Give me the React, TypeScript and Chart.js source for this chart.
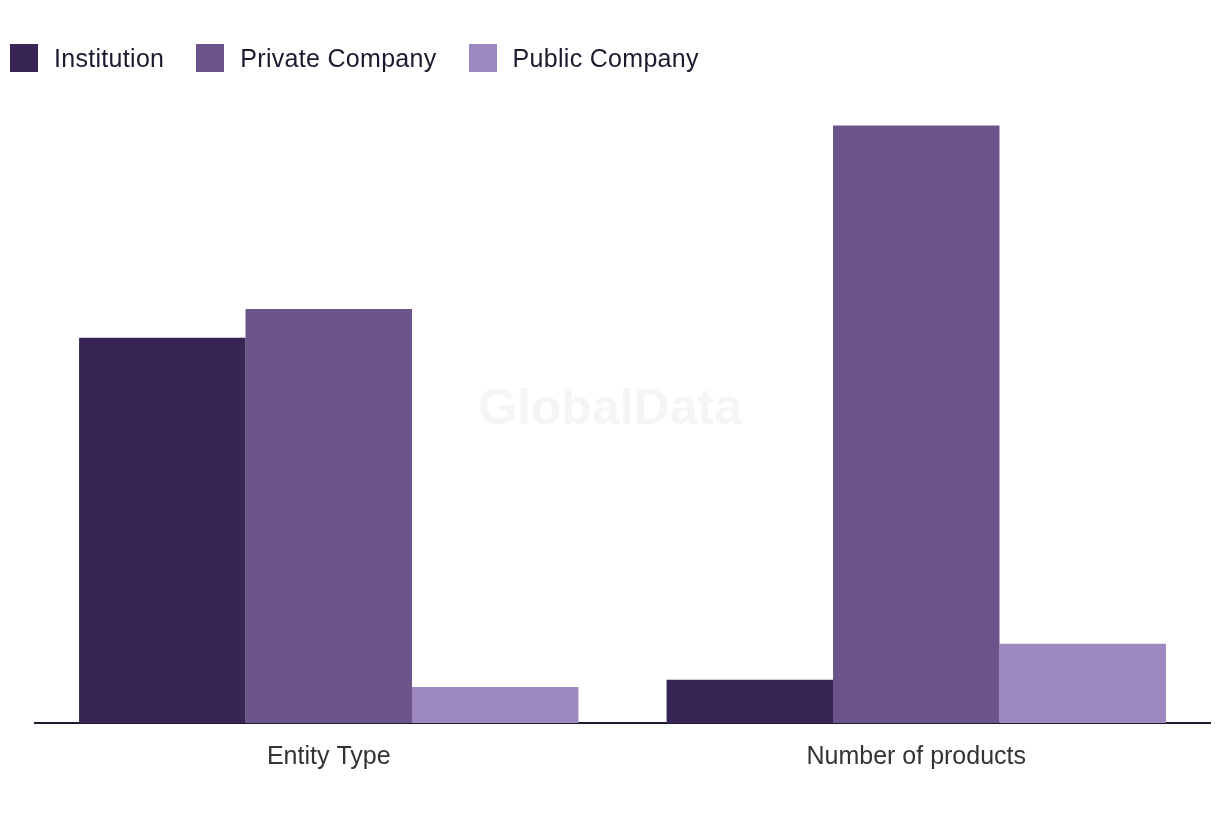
import React, { useEffect, useRef } from "react";
import { Chart, registerables } from "chart.js";

Chart.register(...registerables);

const categories = ["Entity Type", "Number of products"];
const seriesNames = ["Institution", "Private Company", "Public Company"];
const institution = [107, 12];
const privateCompany = [115, 166];
const publicCompany = [10, 22];
const seriesColors = ["#372555", "#6a5489", "#9e88c0"];
const yMax = 180;

const FONT = '"Liberation Sans", Arial, sans-serif';

const watermarkPlugin = {
  id: "watermark",
  beforeDatasetsDraw(chart: any) {
    const { ctx } = chart;
    ctx.save();
    ctx.font = `bold 50px ${FONT}`;
    ctx.fillStyle = "#f5f5f5";
    ctx.textAlign = "center";
    ctx.textBaseline = "middle";
    ctx.fillText("GlobalData", chart.width / 2, chart.height / 2);
    ctx.restore();
  },
};

export default function App() {
  const ref = useRef<HTMLCanvasElement | null>(null);

  useEffect(() => {
    if (!ref.current) return;
    const data = [institution, privateCompany, publicCompany];
    const chart = new Chart(ref.current, {
      type: "bar",
      data: {
        labels: categories,
        datasets: seriesNames.map((name, i) => ({
          label: name,
          data: data[i],
          backgroundColor: seriesColors[i],
          borderWidth: 0,
          categoryPercentage: 0.85,
          barPercentage: 1.0,
        })),
      },
      options: {
        animation: false,
        responsive: false,
        maintainAspectRatio: false,
        layout: { padding: { left: 35, right: 10, top: 75, bottom: 29 } },
        plugins: {
          legend: { display: false },
          tooltip: { enabled: false },
        },
        scales: {
          x: {
            grid: { display: false, drawTicks: false },
            border: { display: true, color: "#1b1a2e", width: 2 },
            ticks: {
              font: { family: FONT, size: 25 },
              color: "#333333",
              padding: 19,
            },
          },
          y: {
            display: false,
            min: 0,
            max: yMax,
          },
        },
      },
      plugins: [watermarkPlugin],
    });
    return () => chart.destroy();
  }, []);

  return (
    <div style={{ position: "absolute", left: 0, top: 0, width: 1220, height: 820, background: "#fff" }}>
      <canvas ref={ref} width={1220} height={820} style={{ position: "absolute", left: 0, top: 0 }} />
      <div
        style={{
          position: "absolute",
          left: 10,
          top: 44,
          display: "flex",
          alignItems: "center",
          fontFamily: FONT,
          fontSize: 25,
          letterSpacing: "0.3px",
          color: "#1b1a2e",
          height: 28,
        }}
      >
        {seriesNames.map((name, i) => (
          <div key={name} style={{ display: "flex", alignItems: "center", marginRight: 32 }}>
            <div style={{ width: 28, height: 28, background: seriesColors[i], marginRight: 16 }} />
            <span style={{ lineHeight: "28px", whiteSpace: "nowrap" }}>{name}</span>
          </div>
        ))}
      </div>
    </div>
  );
}
